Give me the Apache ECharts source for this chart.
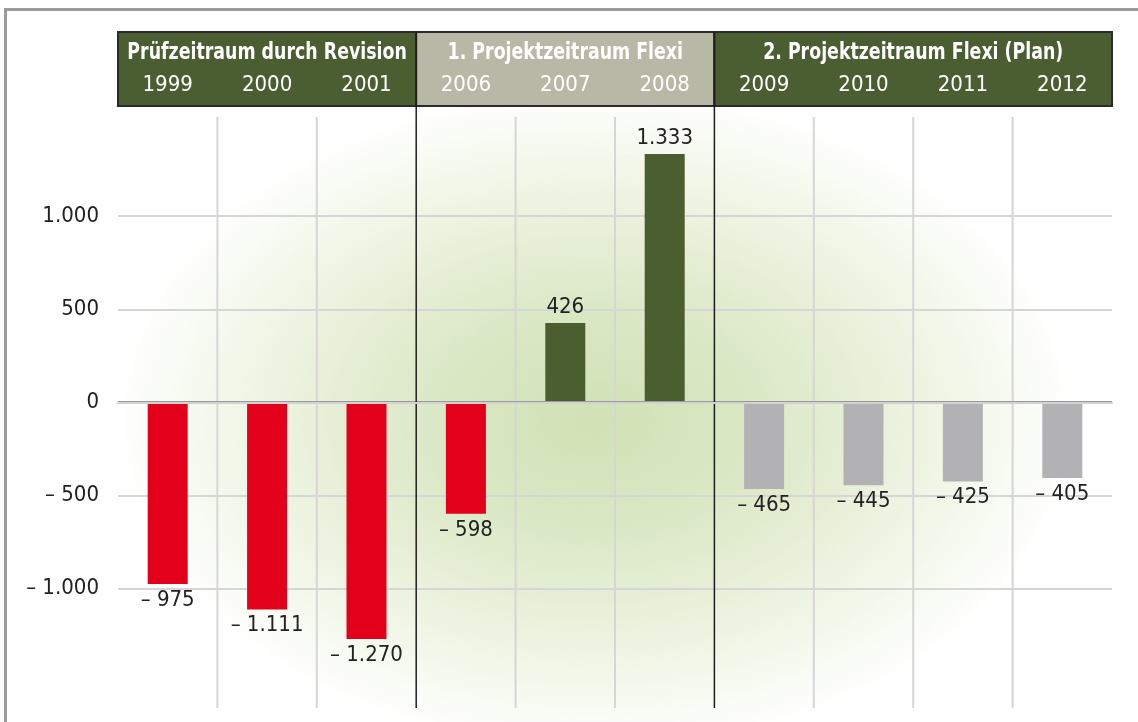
<!DOCTYPE html>
<html><head><meta charset="utf-8">
<script src="https://cdn.jsdelivr.net/npm/echarts@6/dist/echarts.min.js"></script>
<style>
html,body{margin:0;padding:0;background:#fff;overflow:hidden;width:1138px;height:722px}
#glow{position:absolute;left:0;top:0;width:1138px;height:722px;
 background:radial-gradient(ellipse 480px 330px at 595px 420px,#d1e2b5 0%,#d9e7c3 30%,#e6efd6 55%,#f4f8ec 80%,#ffffff 100%)}
#frame{position:absolute;left:4px;top:8px;width:1200px;height:800px;border:3px solid #9b9b9b}
#chart{position:absolute;left:0;top:0;width:1138px;height:722px}
</style></head>
<body>
<div id="glow"></div><div id="frame"></div><div id="chart"></div>
<script>
const categories = ['1999','2000','2001','2006','2007','2008','2009','2010','2011','2012'];
const values = [-975,-1111,-1270,-598,426,1333,-465,-445,-425,-405];
const groupNames = ['Prüfzeitraum durch Revision','1. Projektzeitraum Flexi','2. Projektzeitraum Flexi (Plan)'];
const groupSizes = [3,3,4];
const yTicks = [-1000,-500,0,500,1000];

const FONT = "'DejaVu Sans Condensed','Liberation Sans Narrow','Roboto',sans-serif";
const groupOf = [];
groupSizes.forEach((n,g)=>{for(let k=0;k<n;k++) groupOf.push(g);});
const planGroup = 2;
function fmt(v){
  const s = String(Math.abs(v)).replace(/\B(?=(\d{3})+(?!\d))/g,'.');
  return v < 0 ? '\u2013 ' + s : s;
}
function barColor(i){
  if (groupOf[i] === planGroup) return '#b2b2b4';
  return values[i] < 0 ? '#e2001a' : '#4a5e2f';
}

const chart = echarts.init(document.getElementById('chart'), null, {renderer:'canvas'});
chart.setOption({
  animation:false,
  backgroundColor:'transparent',
  grid:{left:118,right:26,top:117,bottom:14,containLabel:false},
  xAxis:{type:'category',position:'top',data:categories,z:10,
    axisLine:{show:true,lineStyle:{color:'#d2d2d2',width:2}},
    axisTick:{show:false},splitLine:{show:false},
    axisLabel:{color:'#ffffff',fontSize:22,fontFamily:FONT,margin:32,verticalAlign:'middle'}},
  yAxis:{type:'value',min:-1640,max:1532,
    axisLine:{show:false},axisTick:{show:false},splitLine:{show:false},
    axisLabel:{customValues:yTicks,formatter:v=>fmt(v),color:'#222',fontSize:22,fontFamily:FONT,margin:19}},
  series:[
    {type:'line',data:values,symbol:'none',silent:true,lineStyle:{opacity:0,width:0},z:1,
     markLine:{silent:true,symbol:'none',z:1,label:{show:false},
       data:yTicks.filter(v=>v!==0).map(v=>({yAxis:v,lineStyle:{color:'#d6d6d6',width:2,type:'solid'}}))}},
    {type:'bar',barWidth:40,z:2,
     data:values.map((v,i)=>({value:v,itemStyle:{color:barColor(i)},
        label:{position:v<0?'bottom':'top'}})),
     label:{show:true,distance:5,formatter:p=>fmt(p.value),color:'#222',fontSize:22,fontFamily:FONT},
     markLine:{silent:true,symbol:'none',z:5,label:{show:false},
       data:[{yAxis:0,lineStyle:{color:'#9a9a9a',width:3,type:'solid'}}]}}
  ]
});

// header and separators from category axis positions
const c0 = chart.convertToPixel({xAxisIndex:0},0);
const c1 = chart.convertToPixel({xAxisIndex:0},1);
const bw = c1 - c0;
const bnd = i => c0 - bw/2 + i*bw;
const plotTop = chart.convertToPixel({yAxisIndex:0},1532);
const plotBot = chart.convertToPixel({yAxisIndex:0},-1640);
const headTop = 32, headBot = 106;
const headColors = ['#4b5e31','#b8b8a6','#4b5e31'];
const els = [];
let start = 0;
const groupBounds = [];
groupSizes.forEach((n,g)=>{
  const x0 = bnd(start), x1 = bnd(start+n);
  els.push({type:'rect',z:5,shape:{x:x0,y:headTop,width:x1-x0,height:headBot-headTop},
    style:{fill:headColors[g],stroke:'#2b2b2b',lineWidth:2}});
  els.push({type:'text',z:11,x:(x0+x1)/2,y:53,scaleX:0.84,
    style:{text:groupNames[g],fill:'#ffffff',font:"bold 23px "+FONT,align:'center',verticalAlign:'middle'}});
  start += n;
  if (start < categories.length) groupBounds.push(start);
});
for (let i=1;i<categories.length;i++){
  if (groupBounds.indexOf(i) >= 0){
    els.push({type:'line',z:6,shape:{x1:bnd(i),y1:headTop,x2:bnd(i),y2:plotBot},style:{stroke:'#1e1e1e',lineWidth:1.5}});
  } else {
    els.push({type:'line',z:1,shape:{x1:bnd(i),y1:plotTop,x2:bnd(i),y2:plotBot},style:{stroke:'#d6d6d6',lineWidth:2}});
  }
}
chart.setOption({graphic:{elements:els}});
</script>
</body></html>
